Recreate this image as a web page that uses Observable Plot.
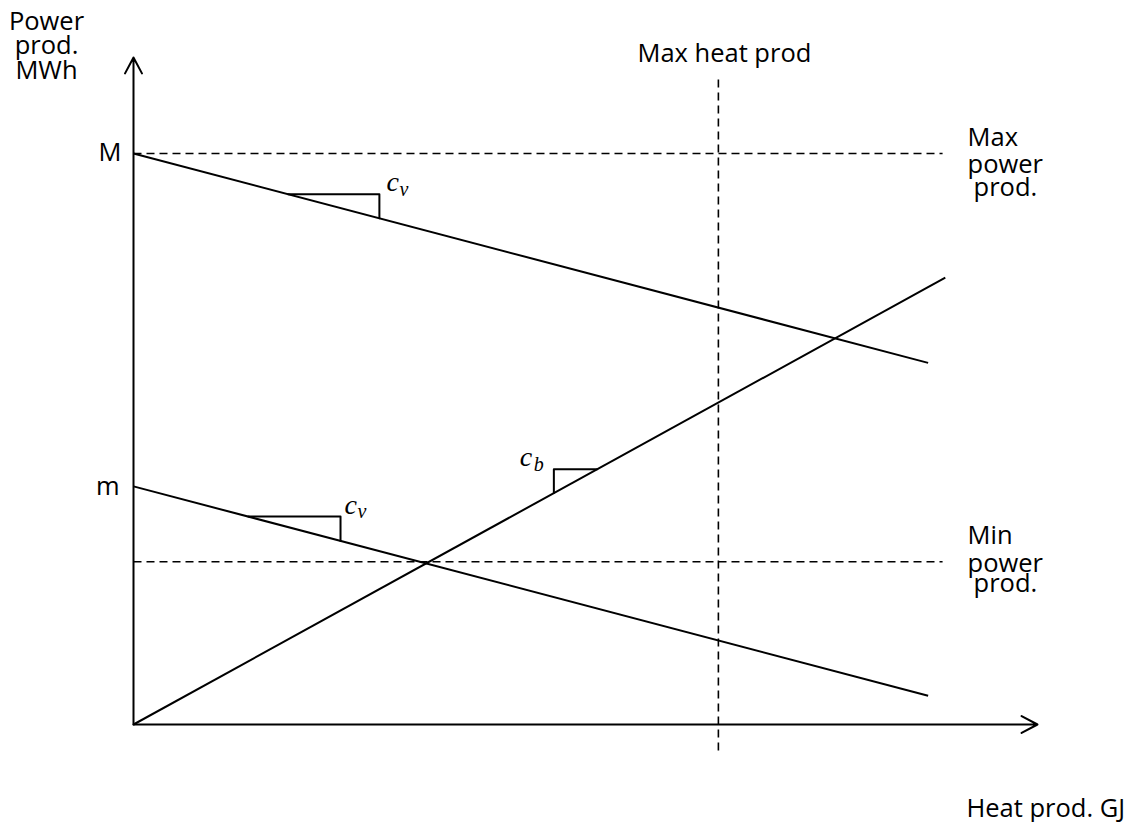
<!DOCTYPE html>
<html>
<head>
<meta charset="utf-8">
<script src="https://cdn.jsdelivr.net/npm/d3@7"></script>
<script src="https://cdn.jsdelivr.net/npm/@observablehq/plot@0.6"></script>
<style>
  html, body { margin: 0; padding: 0; background: #fff; }
  #chart svg { display: block; }
</style>
</head>
<body>
<div id="chart"></div>
<script>
// ---- Data (diagram units: heat 0..100, power 0..100) ----
const axisMax = [100, 100];              // [heat axis end, power axis end]
const levels = { M: 85.6, m: 35.7 };     // intercepts of the two back-pressure lines
const cv = -0.357;                       // slope of the iso-fuel lines (c_v)
const cb = 0.746;                        // slope of the back-pressure line (c_b)
const lineEnd = 87.9;                    // heat where c_v lines end
const cbEnd = 89.8;                      // heat where c_b line ends
const maxPowerProd = 85.6;
const minPowerProd = 24.4;
const maxHeatProd = 64.7;
const limitEnd = 89.5;                   // end of horizontal dashed limits
const maxHeatSpan = [-3.9, 97.3];        // vertical span of max-heat dashed line
const triUpper = [17.1, 27.2];           // c_v triangle on upper line
const triLower = [12.7, 22.9];           // c_v triangle on lower line
const triCb = [46.5, 51.3];              // c_b triangle on rising line

const labels = {
  yTitle: "Power\nprod.\nMWh",
  xTitle: "Heat prod. GJ",
  maxHeat: "Max heat prod",
  M: "M", m: "m"
};

// ---- derived geometry ----
const fUpper = x => levels.M + cv * x;
const fLower = x => levels.m + cv * x;
const fCb = x => cb * x;

const solidLines = [
  {x1: 0, y1: levels.M, x2: lineEnd, y2: fUpper(lineEnd)},
  {x1: 0, y1: levels.m, x2: lineEnd, y2: fLower(lineEnd)},
  {x1: 0, y1: 0, x2: cbEnd, y2: fCb(cbEnd)}
];
const dashedLines = [
  {x1: 0, y1: maxPowerProd, x2: limitEnd, y2: maxPowerProd},
  {x1: 0, y1: minPowerProd, x2: limitEnd, y2: minPowerProd},
  {x1: maxHeatProd, y1: maxHeatSpan[0], x2: maxHeatProd, y2: maxHeatSpan[1]}
];
function triDown(f, [a, b]) {
  return [[a, f(a)], [b, f(a)], [b, f(b)]];
}
function triUp(f, [a, b]) {
  return [[a, f(a)], [a, f(b)], [b, f(b)]];
}
const triangles = [triDown(fUpper, triUpper), triDown(fLower, triLower), triUp(fCb, triCb)];

const axes = [
  {x1: 0, y1: 0, x2: axisMax[0], y2: 0},
  {x1: 0, y1: 0, x2: 0, y2: axisMax[1]}
];

const FONT = "'Open Sans', 'Noto Sans', sans-serif";
const MATH = "'Liberation Serif', 'DejaVu Serif', serif";
const FS = 25.5;

const marks = [
  Plot.arrow(axes, {x1: "x1", y1: "y1", x2: "x2", y2: "y2", stroke: "black", strokeWidth: 2, headLength: 13.5, headAngle: 56}),
  Plot.link(dashedLines, {x1: "x1", y1: "y1", x2: "x2", y2: "y2", stroke: "black", strokeWidth: 1.6, strokeDasharray: "8,5"}),
  Plot.link(solidLines, {x1: "x1", y1: "y1", x2: "x2", y2: "y2", stroke: "black", strokeWidth: 2}),
  ...triangles.map(t => Plot.line(t, {x: d => d[0], y: d => d[1], stroke: "black", strokeWidth: 2, curve: "linear"})),
  // c_v / c_b labels
  Plot.text([[triUpper[1], fUpper(triUpper[0])]], {x: d => d[0], y: d => d[1], text: () => "c", fontFamily: MATH, fontStyle: "italic", fontSize: 28, textAnchor: "start", dx: 7, dy: -12}),
  Plot.text([[triUpper[1], fUpper(triUpper[0])]], {x: d => d[0], y: d => d[1], text: () => "v", fontFamily: MATH, fontStyle: "italic", fontSize: 20, textAnchor: "start", dx: 20, dy: -5}),
  Plot.text([[triLower[1], fLower(triLower[0])]], {x: d => d[0], y: d => d[1], text: () => "c", fontFamily: MATH, fontStyle: "italic", fontSize: 28, textAnchor: "start", dx: 4, dy: -12}),
  Plot.text([[triLower[1], fLower(triLower[0])]], {x: d => d[0], y: d => d[1], text: () => "v", fontFamily: MATH, fontStyle: "italic", fontSize: 20, textAnchor: "start", dx: 17, dy: -5}),
  Plot.text([[triCb[0], fCb(triCb[1])]], {x: d => d[0], y: d => d[1], text: () => "c", fontFamily: MATH, fontStyle: "italic", fontSize: 28, textAnchor: "start", dx: -34, dy: -12}),
  Plot.text([[triCb[0], fCb(triCb[1])]], {x: d => d[0], y: d => d[1], text: () => "b", fontFamily: MATH, fontStyle: "italic", fontSize: 20, textAnchor: "start", dx: -20, dy: -5}),
  // M and m
  Plot.text([levels.M], {x: 0, y: d => d, text: () => labels.M, fontFamily: FONT, fontSize: FS, textAnchor: "end", dx: -12, dy: -1}),
  Plot.text([levels.m], {x: 0, y: d => d, text: () => labels.m, fontFamily: FONT, fontSize: FS, textAnchor: "end", dx: -14, dy: 0}),
  // Max heat prod
  Plot.text([maxHeatProd], {x: d => d, frameAnchor: "top", text: () => labels.maxHeat, fontFamily: FONT, fontSize: FS, textAnchor: "middle", lineAnchor: "top", dx: 6, dy: 43}),
  // Max power prod.
  Plot.text([maxPowerProd], {x: limitEnd, y: d => d, text: () => "Max", fontFamily: FONT, fontSize: FS, textAnchor: "start", dx: 25, dy: -16}),
  Plot.text([maxPowerProd], {x: limitEnd, y: d => d, text: () => "power", fontFamily: FONT, fontSize: FS, textAnchor: "start", dx: 25, dy: 11}),
  Plot.text([maxPowerProd], {x: limitEnd, y: d => d, text: () => "prod.", fontFamily: FONT, fontSize: FS, textAnchor: "start", dx: 31, dy: 34}),
  // Min power prod.
  Plot.text([minPowerProd], {x: limitEnd, y: d => d, text: () => "Min", fontFamily: FONT, fontSize: FS, textAnchor: "start", dx: 25, dy: -26}),
  Plot.text([minPowerProd], {x: limitEnd, y: d => d, text: () => "power", fontFamily: FONT, fontSize: FS, textAnchor: "start", dx: 25, dy: 2}),
  Plot.text([minPowerProd], {x: limitEnd, y: d => d, text: () => "prod.", fontFamily: FONT, fontSize: FS, textAnchor: "start", dx: 31, dy: 22}),
  // axis titles
  Plot.text([labels.yTitle], {frameAnchor: "top-left", text: d => d, fontFamily: FONT, fontSize: FS, textAnchor: "middle", lineAnchor: "top", lineHeight: 0.96, dx: 46, dy: 12}),
  Plot.text([labels.xTitle], {frameAnchor: "bottom-left", text: d => d, fontFamily: FONT, fontSize: FS, textAnchor: "start", lineAnchor: "bottom", dx: 966, dy: -6})
];

const chart = Plot.plot({
  width: 1130,
  height: 822,
  margin: 0,
  style: {background: "white", fontFamily: FONT, color: "black"},
  x: {domain: [0, 100], range: [133, 1037], axis: null},
  y: {domain: [0, 100], range: [724, 57], axis: null},
  marks
});
document.getElementById("chart").appendChild(chart);
</script>
</body>
</html>
